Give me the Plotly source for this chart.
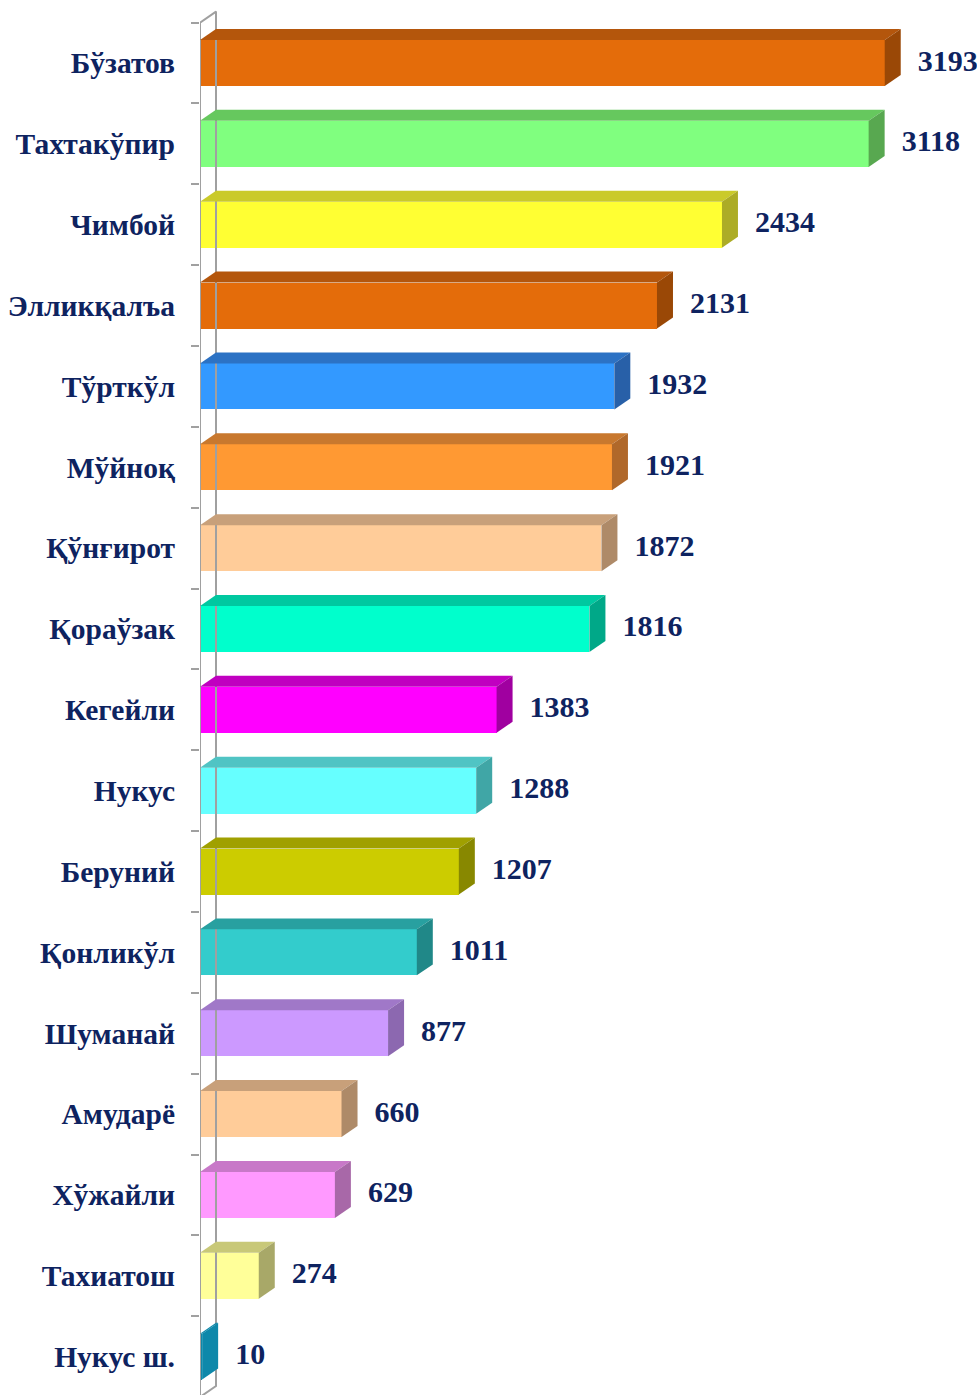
import plotly.graph_objects as go

# Districts and their values, top to bottom
districts = ["Бўзатов", "Тахтакўпир", "Чимбой", "Элликқалъа", "Тўрткўл", "Мўйноқ",
             "Қўнғирот", "Қораўзак", "Кегейли", "Нукус", "Беруний", "Қонликўл",
             "Шуманай", "Амударё", "Хўжайли", "Тахиатош", "Нукус ш."]
values = [3193, 3118, 2434, 2131, 1932, 1921, 1872, 1816, 1383, 1288, 1207, 1011,
          877, 660, 629, 274, 10]

# Face colours of each box: front, top, right side
front_colors = ["#E46C0A", "#80FF7F", "#FFFF33", "#E46C0A", "#3399FF", "#FF9933",
                "#FFCC99", "#00FFCC", "#FF00FF", "#66FFFF", "#CCCC00", "#33CCCC",
                "#CC99FF", "#FFCC99", "#FF99FF", "#FFFF99", "#0E88AA"]
top_colors = ["#B4560C", "#66C85E", "#CACA2A", "#B4560C", "#2C72C4", "#C8782E",
              "#C8A07A", "#00C8A0", "#C000C0", "#50C4C4", "#A0A000", "#28A0A0",
              "#A078C8", "#C8A07A", "#C878C8", "#C8C878", "#0E88AA"]
side_colors = ["#9A4806", "#58A850", "#ACAC26", "#9A4806", "#2860A8", "#B0682A",
               "#AE8A68", "#00A888", "#A000A0", "#40A6A6", "#888800", "#208888",
               "#8C68B0", "#AE8A68", "#A868A8", "#A8A868", "#0E88AA"]

W, H = 977, 1395
ML, MR, MT, MB = 200, 5, 0, 0
X_MAX = 3600
px_per_x = (W - ML - MR) / X_MAX
band_px = 80.85
n = len(districts)
top_front_px = 22.6
y_top = -0.5 - top_front_px / band_px
y_bot = y_top + (H - MT - MB) / band_px

# 3D depth offset (pixels -> data units)
dx = 16 / px_per_x
dy = 11 / band_px
bar_w = 46 / band_px
label_gap = 17 / px_per_x

TEXT_COLOR = "#0E2360"
idx = list(range(n))
fig = go.Figure()

# Side wall behind the category axis
fig.add_trace(go.Scatter(
    x=[0, dx, dx, 0, 0], y=[-0.5, -0.5 - dy, 16.5 - dy, 16.5, -0.5],
    mode="lines", line=dict(color="#A0A0A0", width=2), hoverinfo="skip",
    showlegend=False, cliponaxis=False))

# Front faces
fig.add_trace(go.Bar(
    x=values, y=idx, orientation="h", width=bar_w,
    marker=dict(color=front_colors, line=dict(width=0)),
    hoverinfo="skip", showlegend=False))

# Top and side faces
for i, v in enumerate(values):
    yt = i - bar_w / 2
    yb = i + bar_w / 2
    fig.add_trace(go.Scatter(
        x=[0, v, v + dx, dx, 0], y=[yt, yt, yt - dy, yt - dy, yt],
        fill="toself", fillcolor=top_colors[i], mode="lines",
        line=dict(width=0, color=top_colors[i]), hoverinfo="skip", showlegend=False))
    fig.add_trace(go.Scatter(
        x=[v, v + dx, v + dx, v, v], y=[yt, yt - dy, yb - dy, yb, yt],
        fill="toself", fillcolor=side_colors[i], mode="lines",
        line=dict(width=0, color=side_colors[i]), hoverinfo="skip", showlegend=False))

# Value labels
fig.add_trace(go.Scatter(
    x=[v + dx + label_gap for v in values], y=idx, mode="text",
    text=[str(v) for v in values], textposition="middle right",
    textfont=dict(family="Liberation Serif", size=30, color=TEXT_COLOR, weight="bold"),
    cliponaxis=False, hoverinfo="skip", showlegend=False))

fig.update_layout(
    width=W, height=H,
    margin=dict(l=ML, r=MR, t=MT, b=MB),
    plot_bgcolor="white", paper_bgcolor="white",
    xaxis=dict(range=[0, X_MAX], visible=False, fixedrange=True),
    yaxis=dict(
        range=[y_bot, y_top], tickmode="array", tickvals=idx, ticktext=districts,
        ticks="", showgrid=False, zeroline=False, showline=False,
        ticklabelstandoff=24,
        tickfont=dict(family="Liberation Serif", size=29.5, color=TEXT_COLOR, weight="bold"),
        minor=dict(tickmode="array", tickvals=[i - 0.5 for i in range(n + 1)],
                   ticks="outside", ticklen=8, tickwidth=2, tickcolor="#A0A0A0",
                   showgrid=False),
    ),
    bargap=0,
)

fig.write_html("out.html")
